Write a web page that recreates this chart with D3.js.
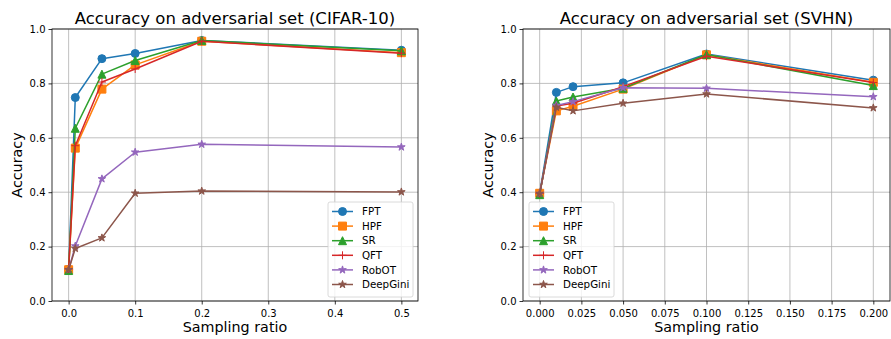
<!DOCTYPE html>
<html>
<head>
<meta charset="utf-8">
<script src="https://cdn.jsdelivr.net/npm/d3@7"></script>
<style>
  body { margin: 0; background: #fff; }
  svg { font-family: "DejaVu Sans", sans-serif; }
</style>
</head>
<body>
<svg id="chart" width="891" height="339"></svg>
<script>
// ── data ────────────────────────────────────────────────────────────────
const methods = ["FPT", "HPF", "SR", "QFT", "RobOT", "DeepGini"];
const colors  = ["#1f77b4", "#ff7f0e", "#2ca02c", "#d62728", "#9467bd", "#8c564b"];
const markers = ["circle", "square", "triangle", "plus", "star", "star"];

const cifarRatios = [0, 0.01, 0.05, 0.1, 0.2, 0.5];
const cifarFPT      = [0.117, 0.748, 0.891, 0.910, 0.958, 0.922];
const cifarHPF      = [0.115, 0.562, 0.779, 0.868, 0.955, 0.913];
const cifarSR       = [0.112, 0.635, 0.834, 0.884, 0.958, 0.920];
const cifarQFT      = [0.118, 0.571, 0.805, 0.853, 0.955, 0.911];
const cifarRobOT    = [0.115, 0.202, 0.449, 0.547, 0.576, 0.566];
const cifarDeepGini = [0.115, 0.193, 0.232, 0.396, 0.404, 0.401];

const svhnRatios = [0, 0.01, 0.02, 0.05, 0.1, 0.2];
const svhnFPT      = [0.396, 0.767, 0.788, 0.802, 0.908, 0.812];
const svhnHPF      = [0.396, 0.699, 0.716, 0.779, 0.905, 0.804];
const svhnSR       = [0.391, 0.735, 0.750, 0.782, 0.906, 0.792];
const svhnQFT      = [0.395, 0.717, 0.727, 0.788, 0.900, 0.803];
const svhnRobOT    = [0.395, 0.719, 0.733, 0.784, 0.782, 0.751];
const svhnDeepGini = [0.395, 0.712, 0.699, 0.727, 0.761, 0.710];

const yTicks = [0, 0.2, 0.4, 0.6, 0.8, 1.0];
const cifarTicks = [0, 0.1, 0.2, 0.3, 0.4, 0.5];
const svhnTicks  = [0, 0.025, 0.05, 0.075, 0.1, 0.125, 0.15, 0.175, 0.2];

// ── marker shapes ───────────────────────────────────────────────────────
function markerPath(kind, s) {
  const h = s / 2;
  if (kind === "circle") return d3.symbol(d3.symbolCircle, Math.PI * h * h)();
  if (kind === "square") return `M${-h},${-h}H${h}V${h}H${-h}Z`;
  if (kind === "triangle") return `M0,${-h}L${h},${h}L${-h},${h}Z`;
  if (kind === "plus") return `M${-h},0H${h}M0,${-h}V${h}`;
  if (kind === "star") return d3.symbol(d3.symbolStar, (h * h) / 0.8908130915292852)();
}

const svg = d3.select("#chart");

function drawPanel(opts) {
  const { left, right, top, bottom, xDomain, xTicks, xFmt, ratios, series, title, legendX, legendY } = opts;

  const x = d3.scaleLinear().domain(xDomain).range([left, right]);
  const y = d3.scaleLinear().domain([0, 1]).range([bottom, top]);
  const g = svg.append("g");

  // grid
  g.append("g").selectAll("line").data(xTicks).join("line")
    .attr("x1", d => x(d)).attr("x2", d => x(d))
    .attr("y1", top).attr("y2", bottom)
    .attr("stroke", "#b0b0b0").attr("stroke-width", 0.8);
  g.append("g").selectAll("line").data(yTicks).join("line")
    .attr("x1", left).attr("x2", right)
    .attr("y1", d => y(d)).attr("y2", d => y(d))
    .attr("stroke", "#b0b0b0").attr("stroke-width", 0.8);

  // axes
  const xAxis = g.append("g")
    .attr("transform", `translate(0,${bottom})`)
    .call(d3.axisBottom(x).tickValues(xTicks).tickFormat(xFmt).tickSize(3.5).tickSizeOuter(0));
  const yAxis = g.append("g")
    .attr("transform", `translate(${left},0)`)
    .call(d3.axisLeft(y).tickValues(yTicks).tickFormat(d3.format(".1f")).tickSize(3.5).tickSizeOuter(0));
  [xAxis, yAxis].forEach(a => {
    a.select(".domain").remove();
    a.selectAll("line").attr("stroke", "#000").attr("stroke-width", 0.8);
    a.selectAll("text").attr("fill", "#000").style("font-size", "10px")
      .style("font-family", "DejaVu Sans, sans-serif");
  });
  xAxis.selectAll("text").attr("dy", "0.9em");

  // series
  const line = d3.line().x(d => x(d[0])).y(d => y(d[1]));
  series.forEach((vals, i) => {
    const pts = ratios.map((r, j) => [r, vals[j]]);
    g.append("path").datum(pts)
      .attr("fill", "none").attr("stroke", colors[i]).attr("stroke-width", 1.5)
      .attr("stroke-linejoin", "round")
      .attr("d", line);
    g.append("g").selectAll("path").data(pts).join("path")
      .attr("transform", d => `translate(${x(d[0])},${y(d[1])})`)
      .attr("d", markerPath(markers[i], 8))
      .attr("fill", markers[i] === "plus" ? "none" : colors[i])
      .attr("stroke", colors[i]).attr("stroke-width", 1);
  });

  // frame
  g.append("rect")
    .attr("x", left).attr("y", top)
    .attr("width", right - left).attr("height", bottom - top)
    .attr("fill", "none").attr("stroke", "#000").attr("stroke-width", 0.8);

  // titles
  g.append("text")
    .attr("x", (left + right) / 2).attr("y", top - 5)
    .attr("text-anchor", "middle").style("font-size", "16.5px")
    .text(title);
  g.append("text")
    .attr("x", (left + right) / 2).attr("y", bottom + 31)
    .attr("text-anchor", "middle").style("font-size", "14.3px")
    .text("Sampling ratio");
  g.append("text")
    .attr("transform", `translate(${left - 30},${(top + bottom) / 2}) rotate(-90)`)
    .attr("text-anchor", "middle").style("font-size", "14.3px")
    .text("Accuracy");

  // legend
  const lg = g.append("g").attr("transform", `translate(${legendX},${legendY})`);
  lg.append("rect")
    .attr("width", 85).attr("height", 95).attr("rx", 2)
    .attr("fill", "#fff").attr("fill-opacity", 0.8)
    .attr("stroke", "#d0d0d0").attr("stroke-width", 0.8);
  methods.forEach((m, i) => {
    const ry = 9.5 + i * 14.6;
    lg.append("line")
      .attr("x1", 4).attr("x2", 25).attr("y1", ry).attr("y2", ry)
      .attr("stroke", colors[i]).attr("stroke-width", 1.5);
    lg.append("path")
      .attr("transform", `translate(14.5,${ry})`)
      .attr("d", markerPath(markers[i], 8))
      .attr("fill", markers[i] === "plus" ? "none" : colors[i])
      .attr("stroke", colors[i]).attr("stroke-width", 1);
    lg.append("text")
      .attr("x", 34).attr("y", ry).attr("dy", "0.35em")
      .style("font-size", "10.3px")
      .text(m);
  });
}

drawPanel({
  left: 52, right: 418, top: 29, bottom: 301,
  xDomain: [-0.025, 0.525], xTicks: cifarTicks, xFmt: d3.format(".1f"),
  ratios: cifarRatios,
  series: [cifarFPT, cifarHPF, cifarSR, cifarQFT, cifarRobOT, cifarDeepGini],
  title: "Accuracy on adversarial set (CIFAR-10)",
  legendX: 328, legendY: 202
});

drawPanel({
  left: 523, right: 890, top: 29, bottom: 301,
  xDomain: [-0.01, 0.21], xTicks: svhnTicks, xFmt: d3.format(".3f"),
  ratios: svhnRatios,
  series: [svhnFPT, svhnHPF, svhnSR, svhnQFT, svhnRobOT, svhnDeepGini],
  title: "Accuracy on adversarial set (SVHN)",
  legendX: 529, legendY: 202
});
</script>
</body>
</html>
